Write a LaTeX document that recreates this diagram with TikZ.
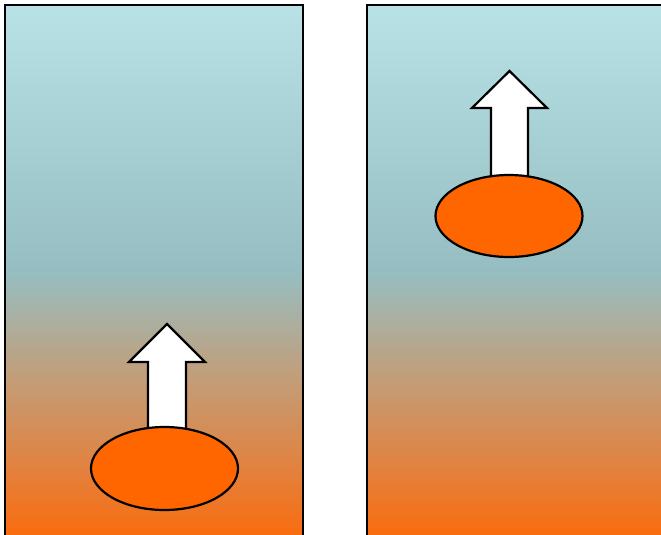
\documentclass[tikz,border=0pt]{standalone}
\usetikzlibrary{shapes.geometric}
\definecolor{orbot}{RGB}{249,108,14}
\definecolor{ormid}{RGB}{228,128,60}
\definecolor{tanc}{RGB}{196,156,118}
\definecolor{tealc}{RGB}{150,190,194}
\definecolor{cyantop}{RGB}{184,226,230}
\definecolor{blob}{RGB}{255,102,0}
\pgfdeclareverticalshading{skyorange}{100bp}{
  color(0bp)=(orbot); color(25bp)=(orbot);
  color(31bp)=(ormid);
  color(39.5bp)=(tanc);
  color(50bp)=(tealc);
  color(75bp)=(cyantop); color(100bp)=(cyantop)}
\tikzset{
  panel/.style={draw=black, line width=2.2pt, shading=skyorange},
  blobshape/.style={ellipse, draw=black, line width=2.2pt, fill=blob, inner sep=0pt},
  uparrow/.style={draw=black, line width=2.2pt, fill=white, line join=miter}
}
\begin{document}
\begin{tikzpicture}[x=1pt,y=-1pt]
\useasboundingbox (0,0) rectangle (661,535);
% panels
\path[panel] (5,5) rectangle (303,536);
\path[panel] (367,5) rectangle (664,536);
% left arrow and blob
\path[uparrow] (148,432) -- (148,362) -- (129,362) -- (167,324) -- (205,362) -- (186,362) -- (186,432) -- cycle;
\node[blobshape, minimum width=147pt, minimum height=83pt] (blobL) at (164.5,468.5) {};
% right arrow and blob
\path[uparrow] (491,180) -- (491,108) -- (472,108) -- (509.5,71) -- (547,108) -- (528,108) -- (528,180) -- cycle;
\node[blobshape, minimum width=147pt, minimum height=82pt] (blobR) at (509,216) {};
\end{tikzpicture}
\end{document}
